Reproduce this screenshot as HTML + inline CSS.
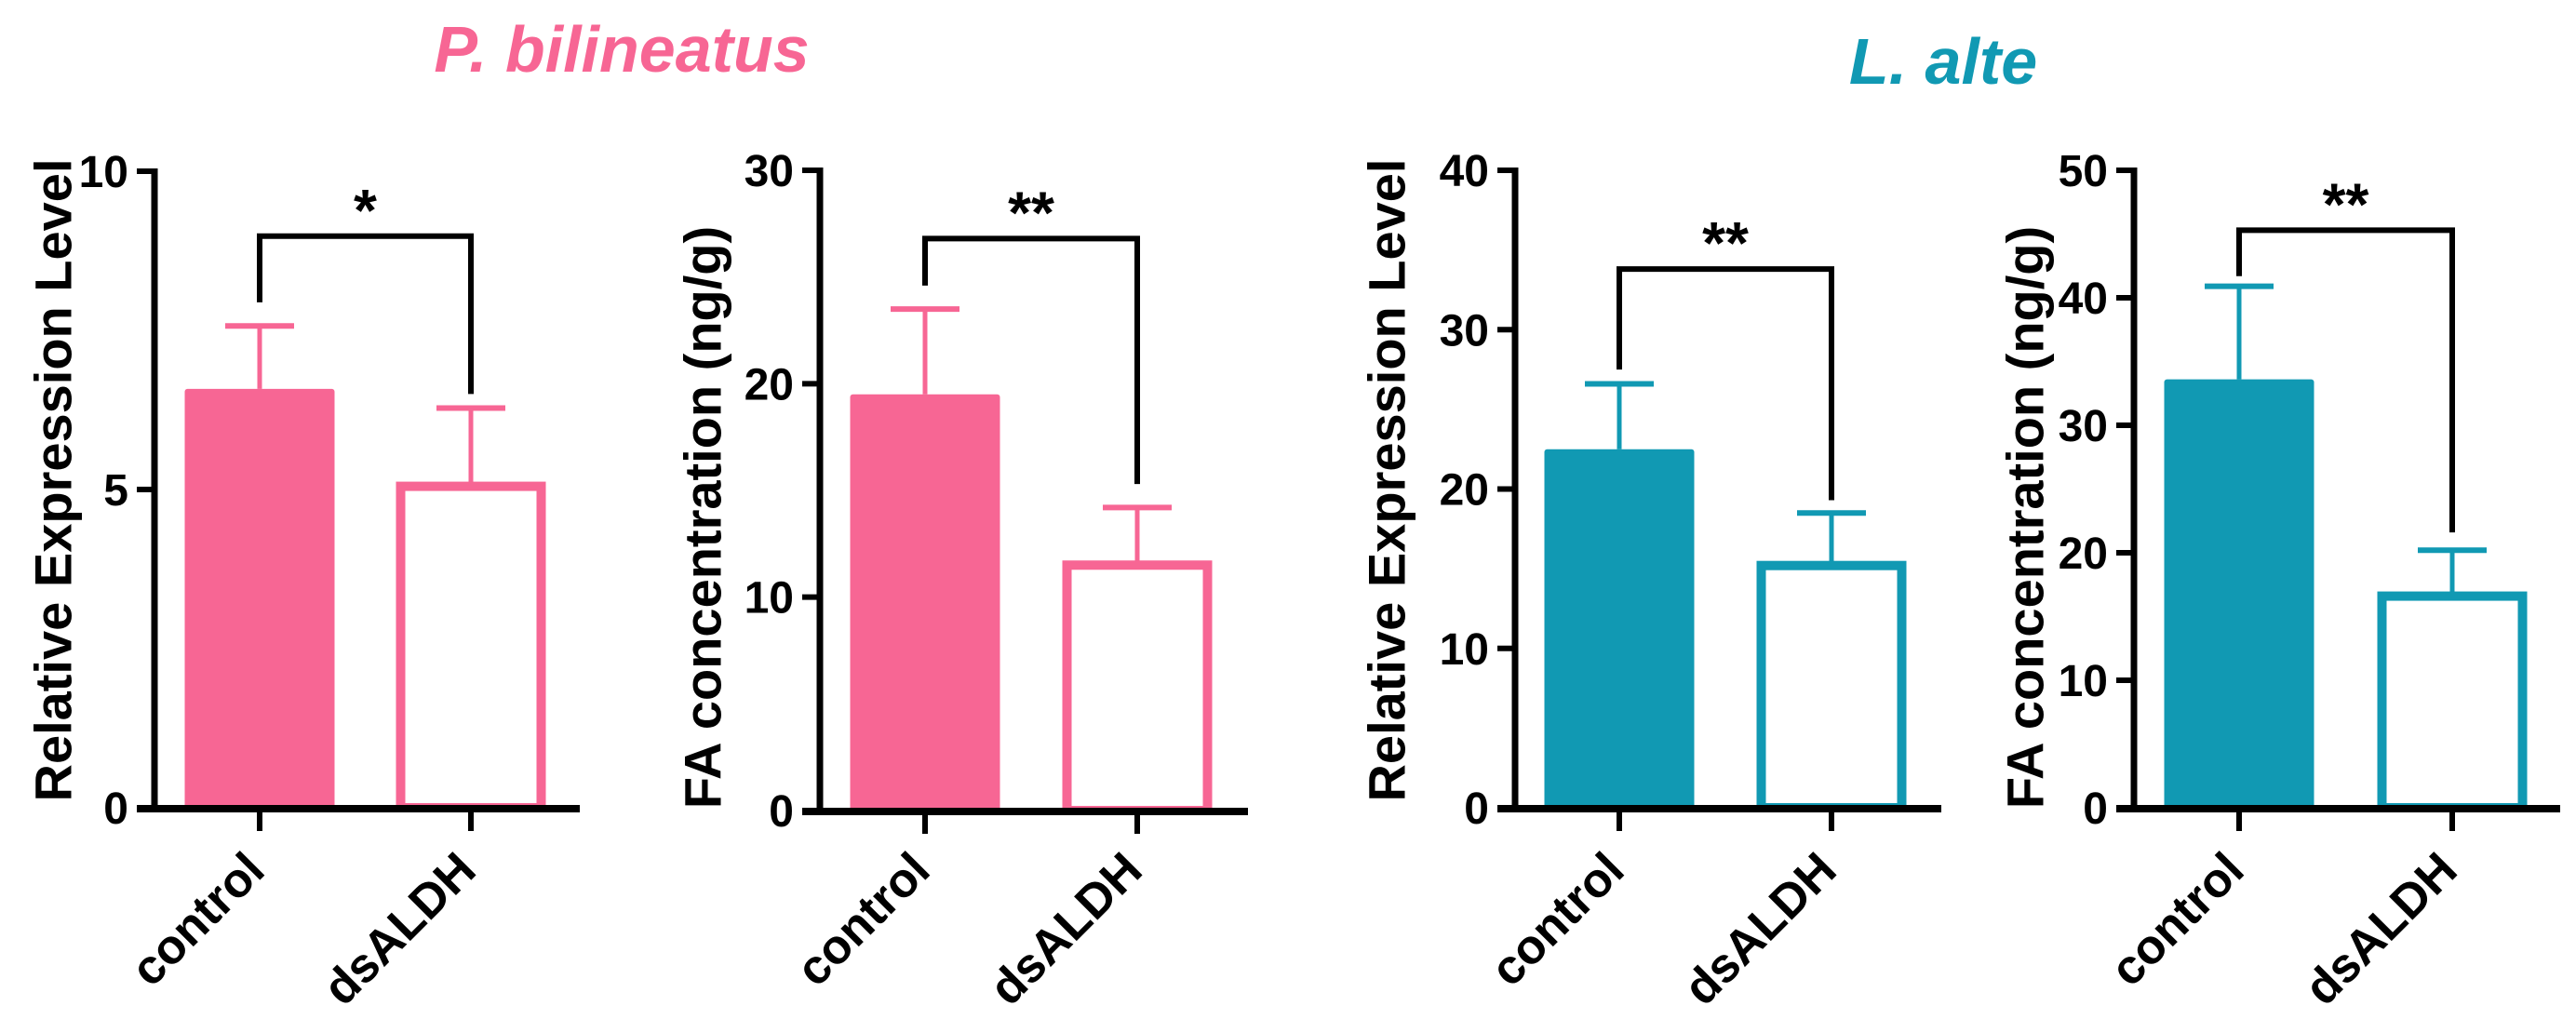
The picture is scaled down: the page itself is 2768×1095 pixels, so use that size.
<!DOCTYPE html>
<html><head><meta charset="utf-8"><style>
html,body{margin:0;padding:0;background:#fff;}
svg{display:block;font-family:"Liberation Sans",Arial,sans-serif;font-weight:bold;}
</style></head><body>
<svg id="fig" width="2768" height="1095" viewBox="0 0 2768 1095" xmlns="http://www.w3.org/2000/svg">
<text x="668" y="77" text-anchor="middle" font-size="70" font-style="italic" fill="#F76694">P. bilineatus</text>
<text x="2088" y="90" text-anchor="middle" font-size="70" font-style="italic" fill="#1199B3">L. alte</text>
</svg>
<script>
const categories = ["control", "dsALDH"];
const c1Means = [6.58, 5.05];
const c1Upper = [7.57, 6.28];
const c1Ticks = [0, 5, 10];
const c1Bracket = [8.98, 7.94, 6.5];
const c1Sig = "*";
const c2Means = [19.5, 11.5];
const c2Upper = [23.5, 14.2];
const c2Ticks = [0, 10, 20, 30];
const c2Bracket = [26.8, 24.6, 15.3];
const c2Sig = "**";
const c3Means = [22.5, 15.2];
const c3Upper = [26.6, 18.5];
const c3Ticks = [0, 10, 20, 30, 40];
const c3Bracket = [33.8, 27.5, 19.3];
const c3Sig = "**";
const c4Means = [33.6, 16.6];
const c4Upper = [40.9, 20.2];
const c4Ticks = [0, 10, 20, 30, 40, 50];
const c4Bracket = [45.3, 41.7, 21.6];
const c4Sig = "**";

const PINK = "#F76694", TEAL = "#1199B3";
const NS = "http://www.w3.org/2000/svg";
const svg = document.getElementById("fig");
function mk(tag, attrs, parent) {
  const e = document.createElementNS(NS, tag);
  for (const k in attrs) e.setAttribute(k, attrs[k]);
  (parent || svg).appendChild(e);
  return e;
}
const layouts = [
  {id:"c1", axisX:166, top:184, zero:868, xEnd:623, centers:[279,506], color:PINK, title:"Relative Expression Level", tx:57, ty:516, means:c1Means, upper:c1Upper, ticks:c1Ticks, br:c1Bracket, sig:c1Sig},
  {id:"c2", axisX:881, top:183, zero:871, xEnd:1341, centers:[994,1222], color:PINK, title:"FA concentration (ng/g)", tx:755, ty:556, means:c2Means, upper:c2Upper, ticks:c2Ticks, br:c2Bracket, sig:c2Sig},
  {id:"c3", axisX:1628, top:183, zero:868, xEnd:2086, centers:[1740,1968], color:TEAL, title:"Relative Expression Level", tx:1490, ty:516, means:c3Means, upper:c3Upper, ticks:c3Ticks, br:c3Bracket, sig:c3Sig},
  {id:"c4", axisX:2293, top:183, zero:868, xEnd:2751, centers:[2406,2635], color:TEAL, title:"FA concentration (ng/g)", tx:2176, ty:556, means:c4Means, upper:c4Upper, ticks:c4Ticks, br:c4Bracket, sig:c4Sig}
];
layouts.forEach(L => {
  const g = mk("g", {});
  
  
  const ymax = L.ticks[L.ticks.length - 1];
  const y = v => L.zero - (v / ymax) * (L.zero - L.top);
  const bw = 161;
  L.means.forEach((m, i) => {
    const cx = L.centers[i];
    const ey = mk("line", {x1:cx, x2:cx, y1:y(m), y2:y(L.upper[i]), stroke:L.color, "stroke-width":5}, g);
    
    
    const cap = mk("line", {x1:cx-37, x2:cx+37, y1:y(L.upper[i]), y2:y(L.upper[i]), stroke:L.color, "stroke-width":6}, g);
    
    
    let r;
    if (i === 0) {
      r = mk("rect", {x:cx-bw/2, y:y(m), width:bw, height:L.zero-y(m), fill:L.color, rx:3}, g);
    } else {
      r = mk("rect", {x:cx-bw/2+5, y:y(m), width:bw-10, height:L.zero-y(m), fill:"#fff", stroke:L.color, "stroke-width":10}, g);
    }
    
    
  });
  const ya = mk("line", {x1:L.axisX, x2:L.axisX, y1:L.top-3, y2:L.zero+4, stroke:"#000", "stroke-width":7}, g);
  
  
  const xa = mk("line", {x1:L.axisX-19, x2:L.xEnd, y1:L.zero+1, y2:L.zero+1, stroke:"#000", "stroke-width":8}, g);
  
  
  L.ticks.forEach(t => {
    if (t !== 0) {
      const tk = mk("line", {x1:L.axisX-19, x2:L.axisX, y1:y(t), y2:y(t), stroke:"#000", "stroke-width":6}, g);
      
      
    }
    const tl = mk("text", {x:L.axisX-28, y:y(t)+17, "text-anchor":"end", "font-size":48, fill:"#000"}, g);
    tl.textContent = String(t);
    
    
  });
  L.centers.forEach((cx, i) => {
    const tk = mk("line", {x1:cx, x2:cx, y1:L.zero, y2:L.zero+25, stroke:"#000", "stroke-width":6}, g);
    
    
    const ax = cx + 8, ay = 938;
    const tl = mk("text", {x:ax, y:ay, "text-anchor":"end", "font-size":52, fill:"#000", transform:`rotate(-45 ${ax} ${ay})`}, g);
    tl.textContent = categories[i];
    
    
  });
  const at = mk("text", {x:L.tx, y:L.ty, "text-anchor":"middle", "dominant-baseline":"central", "font-size":56, fill:"#000", transform:`rotate(-90 ${L.tx} ${L.ty})`}, g);
  at.textContent = L.title;
  
  
  const [bt, bl, brr] = L.br;
  const c0 = L.centers[0], c1 = L.centers[1];
  const p = mk("path", {d:`M${c0} ${y(bl)} V${y(bt)} H${c1} V${y(brr)}`, fill:"none", stroke:"#000", "stroke-width":6}, g);
  
  
  const st = mk("text", {x:(c0+c1)/2, y:y(bt)-6, "text-anchor":"middle", "font-size":64, fill:"#000"}, g);
  st.textContent = L.sig;
  
  
});
</script>
</body></html>
